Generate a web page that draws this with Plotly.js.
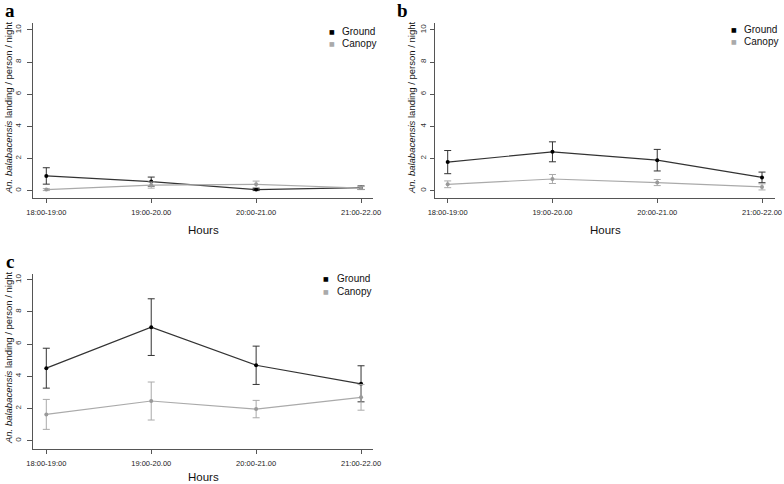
<!DOCTYPE html>
<html>
<head>
<meta charset="utf-8">
<script src="https://cdn.plot.ly/plotly-3.0.1.min.js"></script>
<style>html,body{margin:0;padding:0;background:#fff;}#chart{width:784px;height:484px;}</style>
</head>
<body>
<div id="chart"></div>
<script>
// Categories (hour intervals) as printed on the chart
const hours = ["18:00-19:00", "19:00-20.00", "20:00-21.00", "21:00-22.00"];

// Panel a
const aGround = [0.92, 0.57, 0.07, 0.19];
const aGroundErr = [0.51, 0.28, 0.06, 0.11];
const aCanopy = [0.07, 0.35, 0.40, 0.17];
const aCanopyErr = [0.06, 0.19, 0.20, 0.10];

// Panel b
const bGround = [1.78, 2.42, 1.90, 0.83];
const bGroundErr = [0.72, 0.62, 0.67, 0.33];
const bCanopy = [0.40, 0.73, 0.51, 0.24];
const bCanopyErr = [0.21, 0.28, 0.19, 0.19];

// Panel c
const cGround = [4.50, 7.05, 4.68, 3.53];
const cGroundErr = [1.24, 1.76, 1.19, 1.12];
const cCanopy = [1.63, 2.46, 1.96, 2.69];
const cCanopyErr = [0.93, 1.18, 0.54, 0.80];

const yTicks = [0, 2, 4, 6, 8, 10];
const seriesNames = ["Ground", "Canopy"];

const W = 784, H = 484;
const FONT = "Liberation Sans, Arial, sans-serif";
const GROUND_LINE = "#333333", GROUND_PT = "#000000";
const CANOPY_LINE = "#aaaaaa", CANOPY_PT = "#999999";

function series(y, err, name, xa, ya, lineColor, ptColor) {
  return {
    type: "scatter", mode: "lines+markers", name: name,
    x: hours, y: y, xaxis: xa, yaxis: ya,
    line: {color: lineColor, width: 1.2},
    marker: {color: ptColor, size: 4, symbol: "circle"},
    error_y: {type: "data", array: err, visible: true, color: lineColor, thickness: 1, width: 3.5},
    showlegend: false, hoverinfo: "x+y"
  };
}

const data = [
  series(aGround, aGroundErr, seriesNames[0], "x", "y", GROUND_LINE, GROUND_PT),
  series(aCanopy, aCanopyErr, seriesNames[1], "x", "y", CANOPY_LINE, CANOPY_PT),
  series(bGround, bGroundErr, seriesNames[0], "x2", "y2", GROUND_LINE, GROUND_PT),
  series(bCanopy, bCanopyErr, seriesNames[1], "x2", "y2", CANOPY_LINE, CANOPY_PT),
  series(cGround, cGroundErr, seriesNames[0], "x3", "y3", GROUND_LINE, GROUND_PT),
  series(cCanopy, cCanopyErr, seriesNames[1], "x3", "y3", CANOPY_LINE, CANOPY_PT)
];

function px(x) { return x / W; }
function py(y) { return 1 - y / H; }

function xAxis(left, right, range, anchor) {
  return {
    domain: [px(left), px(right)], anchor: anchor, type: "category",
    categoryorder: "array", categoryarray: hours,
    range: range, showline: true, linecolor: "#555", linewidth: 1,
    ticks: "outside", ticklen: 4, tickcolor: "#555", tickwidth: 1,
    showgrid: false, zeroline: false, automargin: false,
    tickfont: {family: FONT, size: 7.5, color: "#222"}, ticklabelstandoff: 3,
    fixedrange: true
  };
}
function yAxis(top, bottom, range, anchor, standoff, len) {
  return {
    domain: [py(bottom), py(top)], anchor: anchor,
    range: range, tickvals: yTicks, ticktext: yTicks.map(String),
    tickangle: -90, showline: true, linecolor: "#555", linewidth: 1,
    ticks: "outside", ticklen: len, tickcolor: "#555", tickwidth: 1,
    showgrid: false, zeroline: false, automargin: false,
    tickfont: {family: FONT, size: 8, color: "#333"}, ticklabelstandoff: standoff,
    fixedrange: true
  };
}

const yTitle = "<i>An. balabacensis</i> landing / person / night";
const ann = [];
function panelText(letter, x, y) {
  ann.push({text: "<b>" + letter + "</b>", x: px(x), y: py(y), xref: "paper", yref: "paper",
    xanchor: "center", yanchor: "middle", showarrow: false,
    font: {family: "Liberation Serif, Times New Roman, serif", size: 19, color: "#000"}});
}
function yLab(x, y) {
  ann.push({text: yTitle, x: px(x), y: py(y), xref: "paper", yref: "paper", textangle: -90,
    xanchor: "center", yanchor: "middle", showarrow: false,
    font: {family: FONT, size: 9.5, color: "#111"}});
}
function xLab(x, y) {
  ann.push({text: "Hours", x: px(x), y: py(y), xref: "paper", yref: "paper",
    xanchor: "center", yanchor: "middle", showarrow: false,
    font: {family: FONT, size: 11.5, color: "#111"}});
}
function legendAt(mx, tx, y1, y2) {
  const rows = [[seriesNames[0], GROUND_PT, y1], [seriesNames[1], "#aaaaaa", y2]];
  rows.forEach(r => {
    ann.push({text: "\u25A0", x: px(mx), y: py(r[2]), xref: "paper", yref: "paper",
      xanchor: "center", yanchor: "middle", showarrow: false,
      font: {family: "DejaVu Sans, sans-serif", size: 6, color: r[1]}});
    ann.push({text: r[0], x: px(tx), y: py(r[2]), xref: "paper", yref: "paper",
      xanchor: "left", yanchor: "middle", showarrow: false,
      font: {family: FONT, size: 10, color: "#111"}});
  });
}

panelText("a", 10, 10);
panelText("b", 402, 10);
panelText("c", 10, 261);
yLab(8, 108);
yLab(411, 108);
yLab(8, 358);
xLab(203, 230);
xLab(605, 230);
xLab(203, 477);
legendAt(331.5, 340, 31.7, 43.3);
legendAt(733.5, 742, 29.5, 41.7);
legendAt(326, 335, 278.7, 291.3);

const layout = {
  width: W, height: H,
  margin: {l: 0, r: 0, t: 0, b: 0, pad: 0},
  paper_bgcolor: "#fff", plot_bgcolor: "#fff",
  showlegend: false,
  font: {family: FONT},
  xaxis: xAxis(33.3, 373, [-0.124, 3.114], "y"),
  yaxis: yAxis(23.3, 198.3, [-0.47, 10.41], "x", 3, 5),
  xaxis2: xAxis(434.7, 775, [-0.124, 3.124], "y2"),
  yaxis2: yAxis(23.3, 198.3, [-0.47, 10.41], "x2", 1, 4),
  xaxis3: xAxis(33.3, 373, [-0.124, 3.114], "y3"),
  yaxis3: yAxis(274, 449, [-0.52, 10.35], "x3", 3, 5),
  annotations: ann
};

Plotly.newPlot("chart", data, layout, {staticPlot: true, displayModeBar: false});
</script>
</body>
</html>
